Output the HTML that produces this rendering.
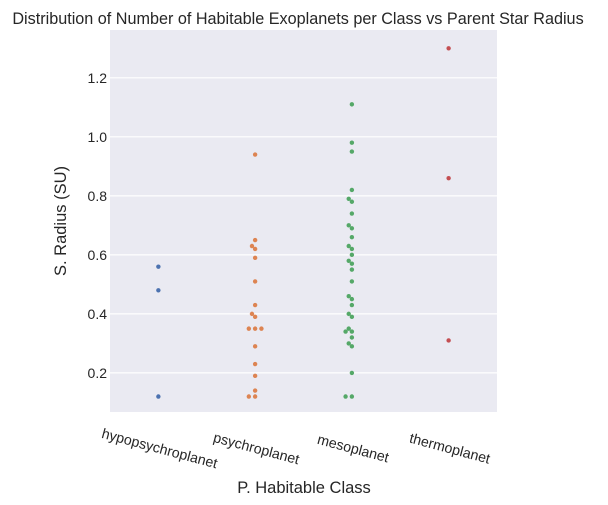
<!DOCTYPE html>
<html><head><meta charset="utf-8"><style>
body{margin:0;background:#fff;}
svg{display:block;font-family:"Liberation Sans",Arial,sans-serif;}
</style></head><body>
<svg id="chart" width="608" height="505">
<rect x="110" y="30" width="387" height="382" fill="#eaeaf2"/>
<g id="grid"></g><g id="ticks"></g><g id="marks"></g>
<text x="298" y="24" text-anchor="middle" font-size="16.2" fill="#262626">Distribution of Number of Habitable Exoplanets per Class vs Parent Star Radius</text>
<text x="304" y="493" text-anchor="middle" font-size="16.5" fill="#262626">P. Habitable Class</text>
<text transform="translate(66,221) rotate(-90)" text-anchor="middle" font-size="16.5" fill="#262626">S. Radius (SU)</text>
</svg>
<script>
const categories=["hypopsychroplanet","psychroplanet","mesoplanet","thermoplanet"];
const colors=["#4c72b0","#dd8452","#55a868","#c44e52"];
const hypoValues=[0.56,0.48,0.12];
const psychroValues=[0.94,0.65,0.63,0.62,0.59,0.51,0.43,0.40,0.39,0.35,0.35,0.35,0.29,0.23,0.19,0.14,0.12,0.12];
const mesoValues=[1.11,0.98,0.95,0.82,0.79,0.78,0.74,0.70,0.69,0.66,0.63,0.62,0.60,0.58,0.57,0.55,0.51,0.46,0.45,0.43,0.40,0.39,0.35,0.34,0.34,0.32,0.30,0.29,0.20,0.12,0.12];
const thermoValues=[1.30,0.86,0.31];
const yTicks=[0.2,0.4,0.6,0.8,1.0,1.2];
const series=[hypoValues,psychroValues,mesoValues,thermoValues];
const NS="http://www.w3.org/2000/svg";
const X0=110,X1=497,Y0=30,Y1=412,yMin=0.0675,yMax=1.362;
function yScale(v){return Y1-(v-yMin)/(yMax-yMin)*(Y1-Y0);}
function xScale(i){const bw=(X1-X0)/categories.length;return X0+bw*(i+0.5);}
function mk(tag,attrs,parent){const e=document.createElementNS(NS,tag);for(const k in attrs)e.setAttribute(k,attrs[k]);parent.appendChild(e);return e;}
const grid=document.getElementById('grid'),ticks=document.getElementById('ticks'),marks=document.getElementById('marks');
yTicks.forEach(t=>{
  const y=yScale(t);
  const l=mk('line',{x1:X0,x2:X1,y1:y,y2:y,stroke:'#fff','stroke-width':1.2},grid);
  
  
  const tx=mk('text',{x:X0-3,y:y+5,'text-anchor':'end','font-size':14,fill:'#262626'},ticks);
  tx.textContent=t.toFixed(1);
  
  
});
categories.forEach((c,i)=>{
  const x=xScale(i);
  const tx=mk('text',{transform:`translate(${x},${453}) rotate(15)`,'text-anchor':'middle','font-size':14.2,fill:'#262626'},ticks);
  tx.textContent=c;
  
  
  const placed=[];const d=4.2;
  const vals=series[i].slice().sort((a,b)=>a-b);
  vals.forEach(v=>{
    const y=yScale(v);let off=0;
    const cands=[0];for(let k=1;k<20;k++){cands.push(-k*d*0.75,k*d*0.75);}
    for(const o of cands){if(placed.every(p=>Math.hypot(p[0]-o,p[1]-y)>=d-0.01)){off=o;break;}}
    placed.push([off,y]);
    const cc=mk('circle',{cx:x+off,cy:y,r:2.2,fill:colors[i]},marks);
    
    
  });
});
</script>
</body></html>
